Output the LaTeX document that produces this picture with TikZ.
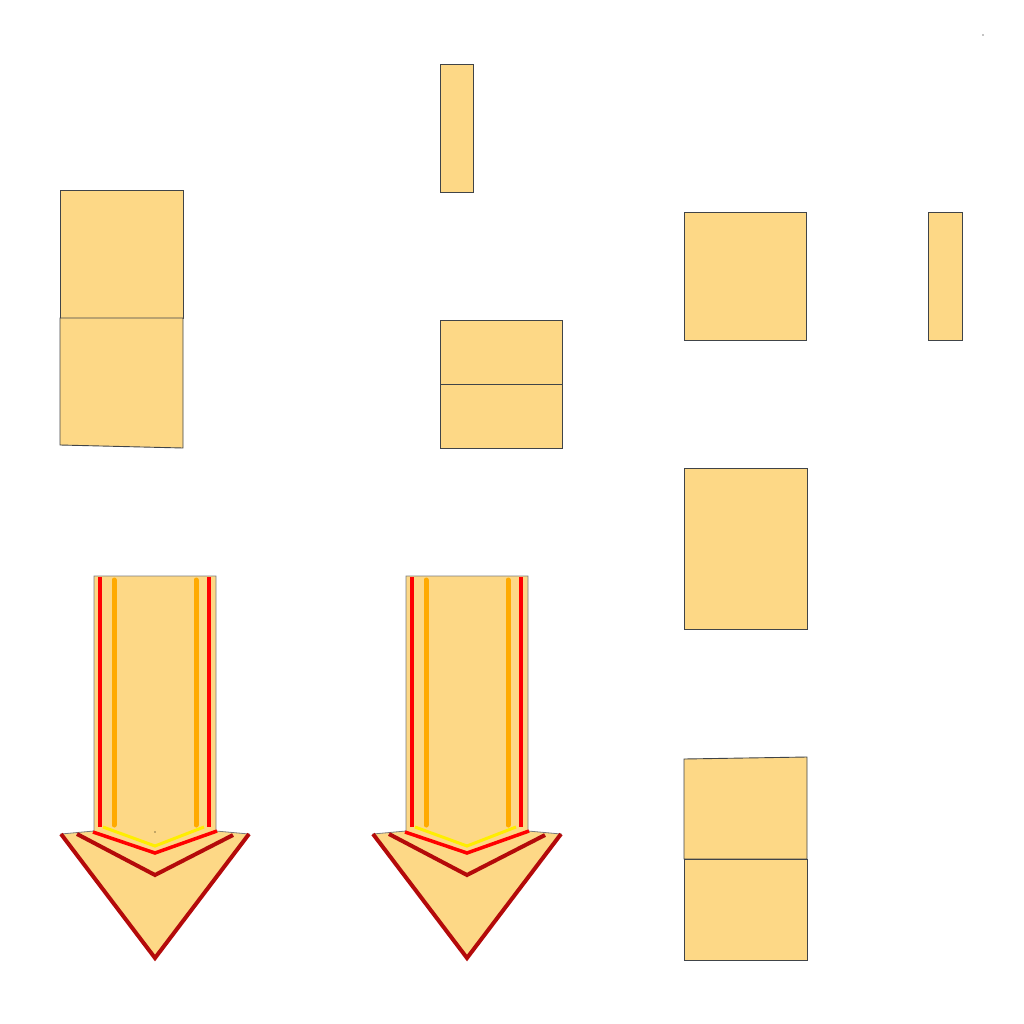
\documentclass[tikz,border=0pt]{standalone}
\usepackage{tikz}
\definecolor{boxfill}{HTML}{FDD886}
\definecolor{boxline}{HTML}{404448}
\definecolor{headred}{HTML}{B40A0A}
\definecolor{barorange}{HTML}{FFAA00}
\definecolor{baryellow}{HTML}{FFEE00}
\tikzstyle{block} = [fill=boxfill, draw=boxline, line width=0.9pt, line join=miter]
\tikzstyle{shaft} = [fill=boxfill, draw=boxline!70, line width=0.8pt]
\tikzstyle{redline} = [draw=red, line width=3.5pt]
\tikzstyle{yellowline} = [draw=baryellow, line width=3pt]
\tikzstyle{orangeline} = [draw=barorange, line width=5pt, line cap=round]
\tikzstyle{headline} = [draw=headred, line width=4pt, line join=miter]

\begin{document}
\begin{tikzpicture}[x=1pt,y=-1pt]
    \useasboundingbox (0,0) rectangle (1024,1024);

    % left column
    \draw[block] (60,190) rectangle (183,318);
    \draw[block] (60,318) -- (183,318) -- (183,448) -- (60,445) -- cycle;

    % middle column
    \draw[block] (440,64) rectangle (473,192);
    \draw[block] (440,320) rectangle (562,384);
    \draw[block] (440,384) rectangle (562,448);

    % right column
    \draw[block] (684,212) rectangle (806,340);
    \draw[block] (928,212) rectangle (962,340);
    \draw[block] (684,468) rectangle (807,629);
    \draw[block] (684,759) -- (807,757) -- (807,859) -- (684,859) -- cycle;
    \draw[block] (684,859) rectangle (807,960);

    \fill (983,35) circle (0.6);

    % first arrow
    \draw[shaft] (94,576) -- (216,576) -- (216,831) -- (249,834) -- (155,959) -- (61,834) -- (94,831) -- cycle;
    \draw[headline] (61,834) -- (155,958) -- (249,834);
    \draw[headline] (77,834) -- (155,875) -- (233,835);
    \draw[redline] (100,577) -- (100,827);
    \draw[redline] (209,577) -- (209,827);
    \draw[redline] (93,832) -- (155,853) -- (217,831);
    \draw[yellowline] (103,827) -- (155,846) -- (204,827);
    \draw[orangeline] (114,580) -- (114,825);
    \draw[orangeline] (196,580) -- (196,825);
    \fill (155,832) circle (0.6);

    % second arrow
    \draw[shaft] (406,576) -- (528,576) -- (528,831) -- (561,834) -- (467,959) -- (373,834) -- (406,831) -- cycle;
    \draw[headline] (373,834) -- (467,958) -- (561,834);
    \draw[headline] (389,834) -- (467,875) -- (545,835);
    \draw[redline] (412,577) -- (412,827);
    \draw[redline] (521,577) -- (521,827);
    \draw[redline] (405,832) -- (467,853) -- (529,831);
    \draw[yellowline] (415,827) -- (467,846) -- (516,827);
    \draw[orangeline] (426,580) -- (426,825);
    \draw[orangeline] (508,580) -- (508,825);
\end{tikzpicture}
\end{document}
